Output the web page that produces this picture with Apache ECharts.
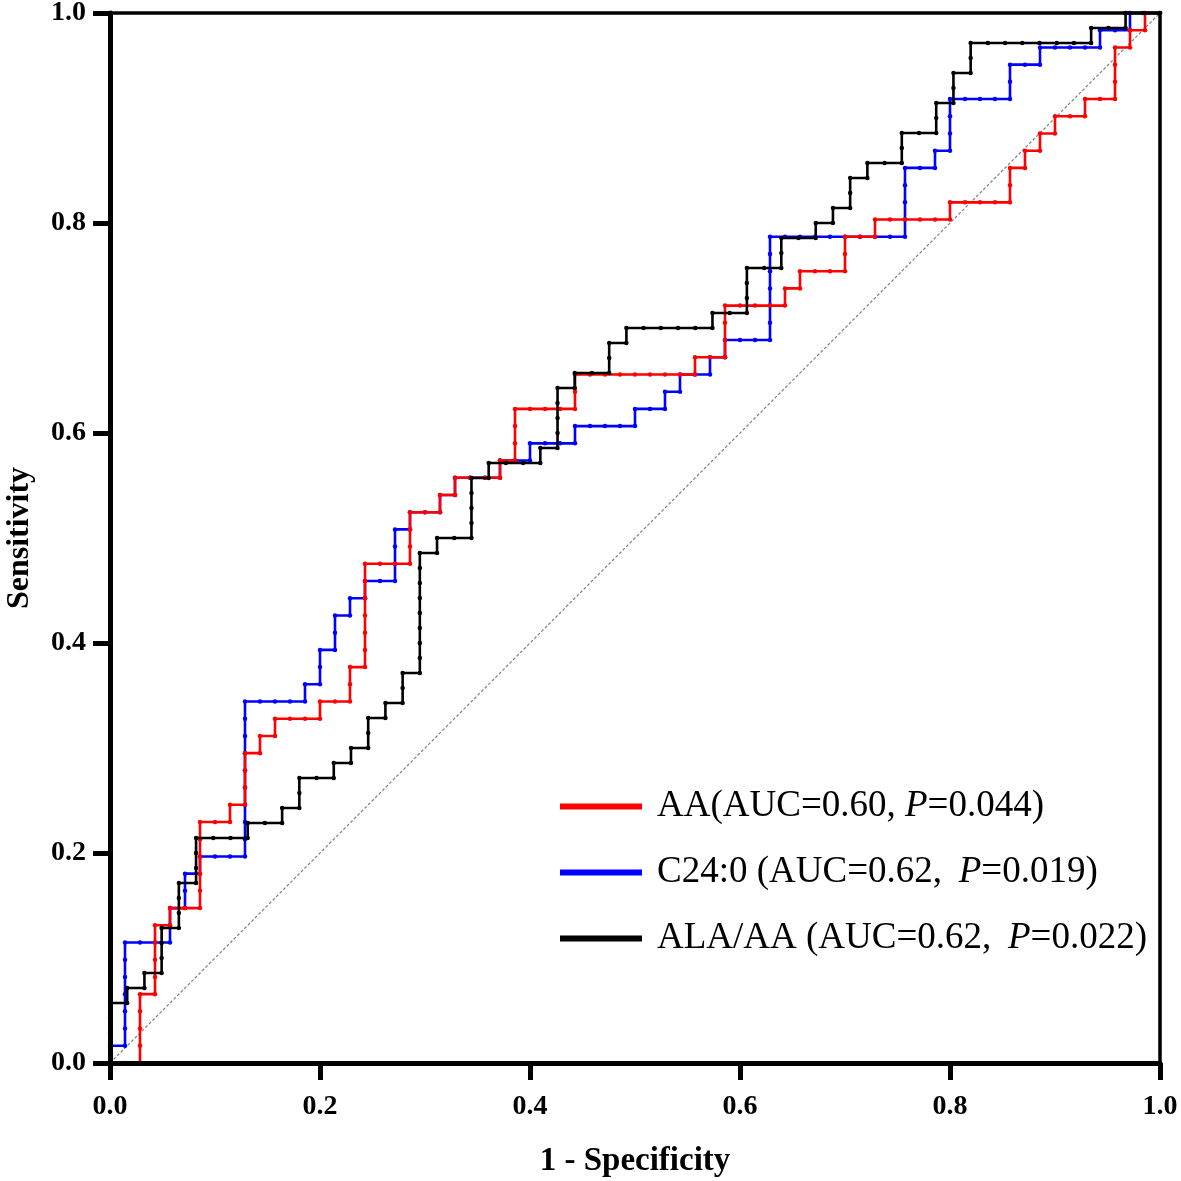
<!DOCTYPE html>
<html>
<head>
<meta charset="utf-8">
<script src="https://cdn.jsdelivr.net/npm/echarts@6/dist/echarts.min.js"></script>
<style>html,body{margin:0;padding:0;background:#fff}#c{width:1181px;height:1181px}</style>
</head>
<body>
<div id="c"></div>
<script>
// Axis ticks
const xTicks = [0.0, 0.2, 0.4, 0.6, 0.8, 1.0];
const yTicks = [0.0, 0.2, 0.4, 0.6, 0.8, 1.0];

// Group sizes (counts used for the ROC steps)
const aaNeg = 70, aaPos = 61;       // AA and C24:0
const ratioNeg = 61, ratioPos = 70; // ALA/AA

// Legend labels
const seriesNames = ['AA', 'C24:0', 'ALA/AA'];
const aucText = ['(AUC=0.60, ', ' (AUC=0.62, \u2009', ' (AUC=0.62, \u2009'];
const pText = ['=0.044)', '=0.019)', '=0.022)'];

// ROC points as [false-positive count, true-positive count]
const aaPoints = [[0,0],[1,0],[2,0],[2,1],[2,2],[2,3],[2,4],[3,4],[3,5],[3,6],[3,7],[3,8],[4,8],[4,9],[5,9],[6,9],[6,10],[6,11],[6,12],[6,13],[6,14],[7,14],[8,14],[8,15],[9,15],[9,16],[9,17],[9,18],[10,18],[10,19],[11,19],[11,20],[12,20],[13,20],[14,20],[14,21],[15,21],[16,21],[16,22],[16,23],[17,23],[17,24],[17,25],[17,26],[17,27],[17,28],[17,29],[18,29],[19,29],[20,29],[20,30],[20,31],[20,32],[21,32],[22,32],[22,33],[23,33],[23,34],[24,34],[25,34],[26,34],[26,35],[27,35],[27,36],[27,37],[27,38],[28,38],[29,38],[30,38],[31,38],[31,39],[31,40],[32,40],[33,40],[34,40],[35,40],[36,40],[37,40],[38,40],[39,40],[39,41],[40,41],[41,41],[41,42],[41,43],[41,44],[42,44],[43,44],[44,44],[45,44],[45,45],[46,45],[46,46],[47,46],[48,46],[49,46],[49,47],[49,48],[50,48],[51,48],[51,49],[52,49],[53,49],[54,49],[55,49],[56,49],[56,50],[57,50],[58,50],[59,50],[60,50],[60,51],[60,52],[61,52],[61,53],[62,53],[62,54],[63,54],[63,55],[64,55],[65,55],[65,56],[66,56],[67,56],[67,57],[67,58],[67,59],[68,59],[68,60],[69,60],[69,61],[70,61]];

const c24Points = [[0,0],[0,1],[1,1],[1,2],[1,3],[1,4],[1,5],[1,6],[1,7],[2,7],[3,7],[4,7],[4,8],[4,9],[5,9],[5,10],[5,11],[6,11],[6,12],[7,12],[8,12],[9,12],[9,13],[9,14],[9,15],[9,16],[9,17],[9,18],[9,19],[9,20],[9,21],[10,21],[11,21],[12,21],[13,21],[13,22],[14,22],[14,23],[14,24],[15,24],[15,25],[15,26],[16,26],[16,27],[17,27],[17,28],[18,28],[19,28],[19,29],[19,30],[19,31],[20,31],[20,32],[21,32],[22,32],[22,33],[23,33],[23,34],[24,34],[25,34],[26,34],[26,35],[27,35],[28,35],[28,36],[29,36],[30,36],[31,36],[31,37],[32,37],[33,37],[34,37],[35,37],[35,38],[36,38],[37,38],[37,39],[38,39],[38,40],[39,40],[40,40],[40,41],[41,41],[41,42],[42,42],[43,42],[44,42],[44,43],[44,44],[44,45],[44,46],[44,47],[44,48],[45,48],[46,48],[47,48],[48,48],[49,48],[50,48],[51,48],[52,48],[53,48],[53,49],[53,50],[53,51],[53,52],[54,52],[55,52],[55,53],[56,53],[56,54],[56,55],[56,56],[57,56],[58,56],[59,56],[60,56],[60,57],[60,58],[61,58],[62,58],[62,59],[63,59],[64,59],[65,59],[66,59],[66,60],[67,60],[68,60],[68,61],[69,61],[70,61]];

const ratioPoints = [[0,0],[0,1],[0,2],[0,3],[0,4],[1,4],[1,5],[2,5],[2,6],[3,6],[3,7],[3,8],[3,9],[4,9],[4,10],[4,11],[4,12],[5,12],[5,13],[5,14],[5,15],[6,15],[7,15],[8,15],[8,16],[9,16],[10,16],[10,17],[11,17],[11,18],[11,19],[12,19],[13,19],[13,20],[14,20],[14,21],[15,21],[15,22],[15,23],[16,23],[16,24],[17,24],[17,25],[17,26],[18,26],[18,27],[18,28],[18,29],[18,30],[18,31],[18,32],[18,33],[18,34],[19,34],[19,35],[20,35],[21,35],[21,36],[21,37],[21,38],[21,39],[22,39],[22,40],[23,40],[24,40],[25,40],[25,41],[26,41],[26,42],[26,43],[26,44],[26,45],[27,45],[27,46],[28,46],[29,46],[29,47],[29,48],[30,48],[30,49],[31,49],[32,49],[33,49],[34,49],[35,49],[35,50],[36,50],[37,50],[37,51],[37,52],[37,53],[38,53],[39,53],[39,54],[39,55],[40,55],[41,55],[41,56],[42,56],[42,57],[43,57],[43,58],[43,59],[44,59],[44,60],[45,60],[46,60],[46,61],[46,62],[47,62],[48,62],[48,63],[48,64],[49,64],[49,65],[49,66],[50,66],[50,67],[50,68],[51,68],[52,68],[53,68],[54,68],[55,68],[56,68],[57,68],[57,69],[58,69],[59,69],[59,70],[60,70],[61,70]];

const refLine = [[0,0],[1,1]];

const serif = '"Liberation Serif","Times New Roman",serif';

function toRates(points, nNeg, nPos) {
  return points.map(p => [p[0] / nNeg, p[1] / nPos]);
}

const chart = echarts.init(document.getElementById('c'), null, {renderer: 'canvas'});

function rocSeries(name, color, data, z) {
  return {
    name: name, type: 'line', data: data, z: z,
    showSymbol: true, symbol: 'circle', symbolSize: 4.5,
    lineStyle: {color: color, width: 2.6},
    itemStyle: {color: color},
    emphasis: {disabled: true},
    animation: false, clip: false
  };
}

const option = {
  animation: false,
  backgroundColor: '#ffffff',
  grid: {left: 110, right: 21, top: 13, bottom: 118, containLabel: false, outerBoundsMode: 'none',
         show: true, borderColor: '#000', borderWidth: 3.5, z: 10, backgroundColor: 'transparent'},
  xAxis: {
    type: 'value', min: xTicks[0], max: xTicks[xTicks.length - 1], interval: 0.2, z: 10,
    name: '1 - Specificity', nameLocation: 'middle', nameGap: 82,
    nameTextStyle: {fontFamily: serif, fontWeight: 'bold', fontSize: 33, color: '#000'},
    axisLine: {show: true, lineStyle: {color: '#000', width: 5}},
    axisTick: {show: true, inside: false, length: 17, lineStyle: {color: '#000', width: 5}},
    axisLabel: {margin: 30, fontFamily: serif, fontWeight: 'bold', fontSize: 28, color: '#000', formatter: v => v.toFixed(1)},
    splitLine: {show: false}
  },
  yAxis: {
    type: 'value', min: yTicks[0], max: yTicks[yTicks.length - 1], interval: 0.2, z: 10,
    name: 'Sensitivity', nameLocation: 'middle', nameGap: 74,
    nameTextStyle: {fontFamily: serif, fontWeight: 'bold', fontSize: 32, color: '#000'},
    axisLine: {show: true, lineStyle: {color: '#000', width: 5}},
    axisTick: {show: true, inside: false, length: 17, lineStyle: {color: '#000', width: 5}},
    axisLabel: {margin: 24, fontFamily: serif, fontWeight: 'bold', fontSize: 28, color: '#000', formatter: v => v.toFixed(1)},
    splitLine: {show: false}
  },
  legend: {
    orient: 'vertical', left: 555, top: 783,
    itemWidth: 82, itemHeight: 6, itemGap: 29, icon: 'rect',
    data: seriesNames,
    formatter: function (name) {
      const i = seriesNames.indexOf(name);
      return '{n|' + name + aucText[i] + '}{i|P}{n|' + pText[i] + '}';
    },
    textStyle: {
      fontFamily: serif, fontSize: 37, color: '#000', padding: [0, 0, 0, 10],
      rich: {
        n: {fontFamily: serif, fontSize: 37, color: '#000', lineHeight: 40},
        i: {fontFamily: serif, fontSize: 37, color: '#000', fontStyle: 'italic', lineHeight: 40}
      }
    }
  },
  series: [
    {
      type: 'line', data: refLine, symbol: 'none', z: 1, silent: true,
      lineStyle: {color: '#808080', width: 1.2, type: [3, 2]}, animation: false
    },
    rocSeries(seriesNames[1], '#0000ff', toRates(c24Points, aaNeg, aaPos), 2),
    rocSeries(seriesNames[0], '#ff0000', toRates(aaPoints, aaNeg, aaPos), 3),
    rocSeries(seriesNames[2], '#000000', toRates(ratioPoints, ratioNeg, ratioPos), 4)
  ]
};
chart.setOption(option);
</script>
</body>
</html>
